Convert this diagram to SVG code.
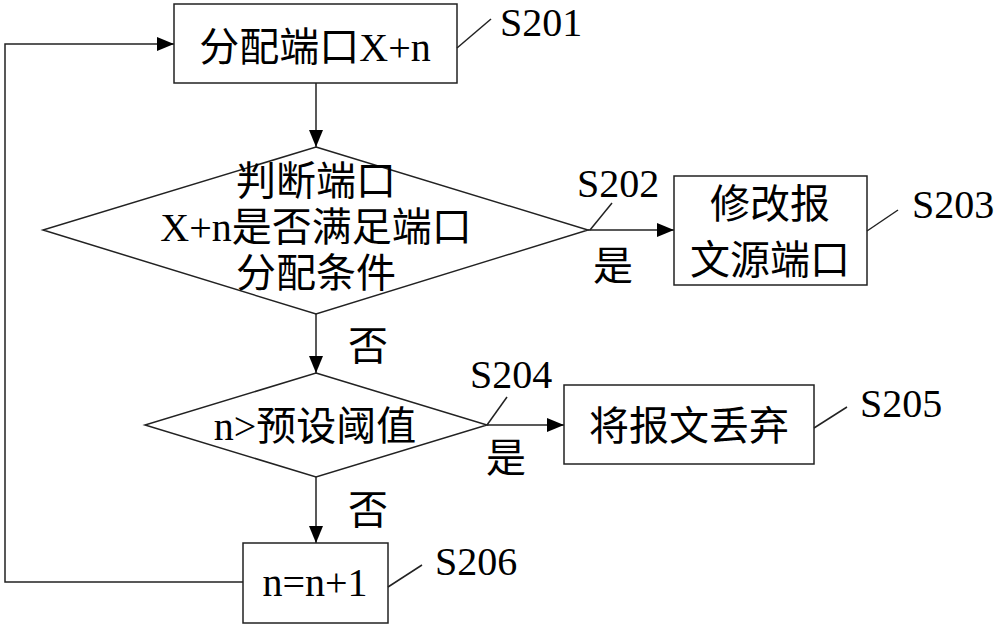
<svg xmlns="http://www.w3.org/2000/svg" width="1000" height="626" viewBox="0 0 1000 626">
<style>
.s{fill:#fff;stroke:#222;stroke-width:1.5}
.l{fill:none;stroke:#222;stroke-width:1.5}
text{font-family:"Liberation Serif","Noto Sans CJK SC",serif;font-size:40px;fill:#000}
.c{text-anchor:middle}
</style>
<defs>
<marker id="a" markerUnits="userSpaceOnUse" markerWidth="18" markerHeight="14" refX="17" refY="7" orient="auto">
<path d="M0,0 L17,7 L0,14 Z" fill="#000"/>
</marker>
</defs>
<g id="connectors">
<line class="l" x1="316" y1="83" x2="316" y2="147" marker-end="url(#a)"/>
<line class="l" x1="588" y1="230" x2="674" y2="230" marker-end="url(#a)"/>
<line class="l" x1="316" y1="314" x2="316" y2="373" marker-end="url(#a)"/>
<line class="l" x1="487" y1="425" x2="564" y2="425" marker-end="url(#a)"/>
<line class="l" x1="316" y1="477" x2="316" y2="543" marker-end="url(#a)"/>
<polyline class="l" points="243,582 5,582 5,44 174,44" marker-end="url(#a)"/>
<text class="c" x="613" y="280">是</text>
<text class="c" x="368" y="360">否</text>
<text class="c" x="506" y="472">是</text>
<text class="c" x="368" y="524">否</text>
</g>
<g id="S201">
<rect class="s" x="174" y="4" width="283" height="79"/>
<text class="c" x="315" y="61">分配端口X+n</text>
<line class="l" x1="457" y1="48" x2="491" y2="19"/>
<text x="500" y="36">S201</text>
</g>
<g id="S202">
<polygon class="s" points="316,147 588,230 316,314 43,230"/>
<text class="c" x="316" y="195">判断端口</text>
<text class="c" x="316" y="241">X+n是否满足端口</text>
<text class="c" x="316" y="287">分配条件</text>
<line class="l" x1="612" y1="203" x2="590" y2="230"/>
<text x="577" y="197">S202</text>
</g>
<g id="S203">
<rect class="s" x="674" y="176" width="193" height="109"/>
<text class="c" x="770" y="218">修改报</text>
<text class="c" x="770" y="274">文源端口</text>
<line class="l" x1="867" y1="231" x2="898" y2="210"/>
<text x="912" y="218">S203</text>
</g>
<g id="S204">
<polygon class="s" points="316,373 487,425 316,477 145,425"/>
<text class="c" x="315" y="440">n&gt;预设阈值</text>
<line class="l" x1="507" y1="397" x2="487" y2="425"/>
<text x="470" y="388">S204</text>
</g>
<g id="S205">
<rect class="s" x="564" y="385" width="250" height="79"/>
<text class="c" x="689" y="440">将报文丢弃</text>
<line class="l" x1="814" y1="428" x2="847" y2="407"/>
<text x="860" y="417">S205</text>
</g>
<g id="S206">
<rect class="s" x="243" y="543" width="145" height="80"/>
<text class="c" x="315" y="596">n=n+1</text>
<line class="l" x1="388" y1="587" x2="422" y2="565"/>
<text x="435" y="575">S206</text>
</g>
</svg>
